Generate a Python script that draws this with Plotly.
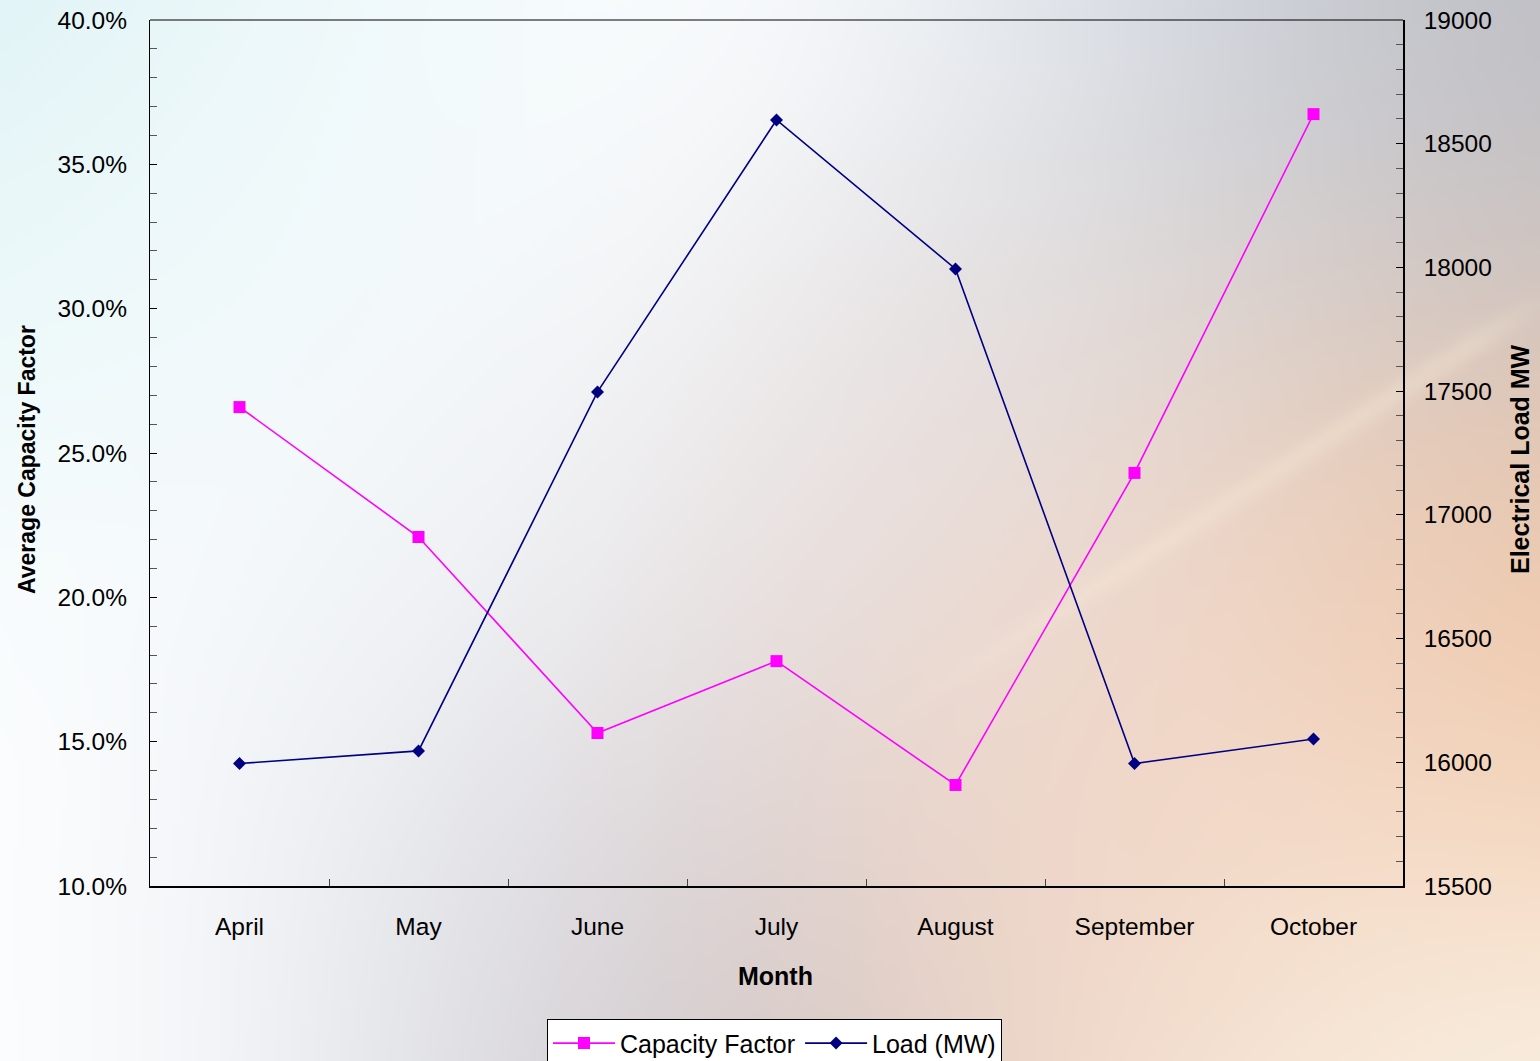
import base64
import struct
import zlib

import numpy as np
import plotly.graph_objects as go

# ---- data ----
months = ["April", "May", "June", "July", "August", "September", "October"]
capacity_factor = [0.2659, 0.2209, 0.1530, 0.1779, 0.1350, 0.2431, 0.3674]
load_mw = [15995, 16046, 17497, 18596, 17994, 15995, 16094]

W, H = 1540, 1061


# ---- soft multi-colour backdrop, rendered to a small PNG ----
def hex_rgb(h):
    h = h.lstrip("#")
    return [int(h[i:i + 2], 16) for i in (0, 2, 4)]


anchors = [
    (0, 0, "#d8f0f4"), (0, 300, "#ecf9fa"), (0, 700, "#fcfeff"),
    (0, 1061, "#ffffff"), (150, 1000, "#ffffff"), (200, 200, "#f4fbfc"),
    (400, 0, "#eef9fb"), (700, 0, "#ffffff"), (1000, 0, "#eef5fa"),
    (1250, 0, "#ccd3de"), (1540, 0, "#b2b4bc"), (1540, 200, "#c6c0c0"),
    (1400, 150, "#c8ccd4"), (1540, 500, "#f0c4a4"), (1540, 800, "#f3cdb0"),
    (1540, 1061, "#fbf8ee"), (1300, 1061, "#f9efe0"), (1100, 1000, "#f3d8c6"),
    (800, 1050, "#d6c4be"), (560, 1050, "#c2bec6"), (420, 1000, "#e0e4ec"),
    (400, 850, "#eef3f8"), (280, 1050, "#f6f9fb"), (600, 300, "#f8fbfd"),
    (500, 550, "#f0f4f9"), (300, 600, "#f8fbfd"), (800, 600, "#e6dedc"),
    (900, 400, "#e8e4e6"), (1100, 300, "#dcdadc"), (1100, 600, "#f0d8cc"),
    (1200, 800, "#f4d6c2"), (1000, 800, "#eed6cc"), (650, 850, "#dcd4d6"),
    (1350, 450, "#eed0ba"),
]

scale = 4
gw, gh = W // scale, H // scale + 1
gx, gy = np.meshgrid((np.arange(gw) + 0.5) * scale, (np.arange(gh) + 0.5) * scale)
num = np.zeros((gh, gw, 3))
den = np.zeros((gh, gw, 1))
sigma = 190.0
for ax_, ay_, col in anchors:
    wgt = np.exp(-((gx - ax_) ** 2 + (gy - ay_) ** 2) / (2 * sigma ** 2))[..., None]
    num += wgt * np.array(hex_rgb(col), float)
    den += wgt
rgb = num / np.maximum(den, 1e-12)

# faint diagonal light streak on the right
x0, y0, x1, y1 = 860, 742, 1560, 289
dx, dy = x1 - x0, y1 - y0
length = np.hypot(dx, dy)
dist = np.abs((gx - x0) * dy - (gy - y0) * dx) / length
t = ((gx - x0) * dx + (gy - y0) * dy) / length ** 2
fade = np.clip(np.minimum(t * 3, (1 - t) * 8), 0, 1)
glow = (np.exp(-dist ** 2 / (2 * 9 ** 2)) * fade * 0.3)[..., None]
rgb = rgb * (1 - glow) + np.array([250, 238, 218], float) * glow

img = np.clip(rgb, 0, 255).astype(np.uint8)


def to_png(arr):
    h, w, _ = arr.shape
    raw = b"".join(b"\x00" + arr[r].tobytes() for r in range(h))

    def chunk(tag, data):
        c = struct.pack(">I", len(data)) + tag + data
        return c + struct.pack(">I", zlib.crc32(tag + data) & 0xFFFFFFFF)

    return (b"\x89PNG\r\n\x1a\n"
            + chunk(b"IHDR", struct.pack(">IIBBBBB", w, h, 8, 2, 0, 0, 0))
            + chunk(b"IDAT", zlib.compress(raw, 9))
            + chunk(b"IEND", b""))


backdrop = "data:image/png;base64," + base64.b64encode(to_png(img)).decode()

# ---- plot geometry (pixels) ----
left, right, top, bottom = 150, 1403, 20, 886
xdom = [left / W, right / W]
ydom = [(H - bottom) / H, (H - top) / H]

FONT = "Liberation Sans, Arial, sans-serif"

fig = go.Figure()
fig.add_trace(go.Scatter(
    x=months, y=capacity_factor, name="Capacity Factor", mode="lines+markers",
    line=dict(color="#ff00ff", width=1.6),
    marker=dict(symbol="square", size=12, color="#ff00ff"),
    yaxis="y",
))
fig.add_trace(go.Scatter(
    x=months, y=load_mw, name="Load (MW)", mode="lines+markers",
    line=dict(color="#000080", width=1.6),
    marker=dict(symbol="diamond", size=10, color="#000080"),
    yaxis="y2",
))

tick_font = dict(family=FONT, size=24.5, color="black")

fig.update_layout(
    template="none",
    width=W, height=H,
    margin=dict(l=0, r=0, t=0, b=0, autoexpand=False),
    paper_bgcolor="white",
    plot_bgcolor="rgba(0,0,0,0)",
    font=dict(family=FONT, color="black"),
    showlegend=True,
    images=[dict(source=backdrop, xref="paper", yref="paper", x=0, y=1,
                 sizex=1, sizey=1, xanchor="left", yanchor="top",
                 sizing="stretch", layer="below")],
    xaxis=dict(
        domain=xdom, type="category", range=[-0.5, 6.5],
        showline=True, linecolor="black", linewidth=2,
        ticks="inside", ticklen=7, tickcolor="#444", tickwidth=1,
        tickson="boundaries", showgrid=False, zeroline=False,
        tickfont=tick_font, ticklabelstandoff=18, automargin=False,
    ),
    yaxis=dict(
        domain=ydom, range=[0.10, 0.40], dtick=0.05, tick0=0.10,
        tickformat=".1%", showline=True, linecolor="black", linewidth=1.2,
        ticks="inside", ticklen=7, tickcolor="black", tickwidth=1,
        minor=dict(dtick=0.01, ticks="inside", ticklen=7, tickcolor="#555", showgrid=False),
        showgrid=False, zeroline=False, tickfont=tick_font,
        ticklabelstandoff=17, automargin=False,
    ),
    yaxis2=dict(
        domain=ydom, overlaying="y", side="right", anchor="x",
        range=[15500, 19000], dtick=500, tick0=15500, tickformat="d",
        showline=True, linecolor="black", linewidth=1.5,
        ticks="inside", ticklen=7, tickcolor="black", tickwidth=1,
        minor=dict(dtick=100, ticks="inside", ticklen=7, tickcolor="#555", showgrid=False),
        showgrid=False, zeroline=False, tickfont=tick_font,
        ticklabelstandoff=14, automargin=False,
    ),
    legend=dict(
        orientation="h", x=774.5 / W, xanchor="center", y=-0.006, yanchor="bottom",
        bgcolor="white", bordercolor="black", borderwidth=1,
        font=dict(family=FONT, size=25, color="black"),
        itemwidth=62, tracegroupgap=0,
    ),
    shapes=[dict(type="line", xref="x domain", yref="y domain", x0=0, x1=1, y0=1, y1=1,
                 line=dict(color="black", width=1.2))],
    annotations=[
        dict(text="<b>Average Capacity Factor</b>", xref="paper", yref="paper",
             x=27 / W, y=(H - 460) / H, xanchor="center", yanchor="middle",
             textangle=-90, showarrow=False,
             font=dict(family=FONT, size=23, color="black")),
        dict(text="<b>Electrical Load MW</b>", xref="paper", yref="paper",
             x=1520 / W, y=(H - 459) / H, xanchor="center", yanchor="middle",
             textangle=-90, showarrow=False,
             font=dict(family=FONT, size=25, color="black")),
        dict(text="<b>Month</b>", xref="paper", yref="paper",
             x=776 / W, y=(H - 976) / H, xanchor="center", yanchor="middle",
             showarrow=False,
             font=dict(family=FONT, size=25, color="black")),
    ],
)

fig.write_html("out.html", config={"displayModeBar": False})
